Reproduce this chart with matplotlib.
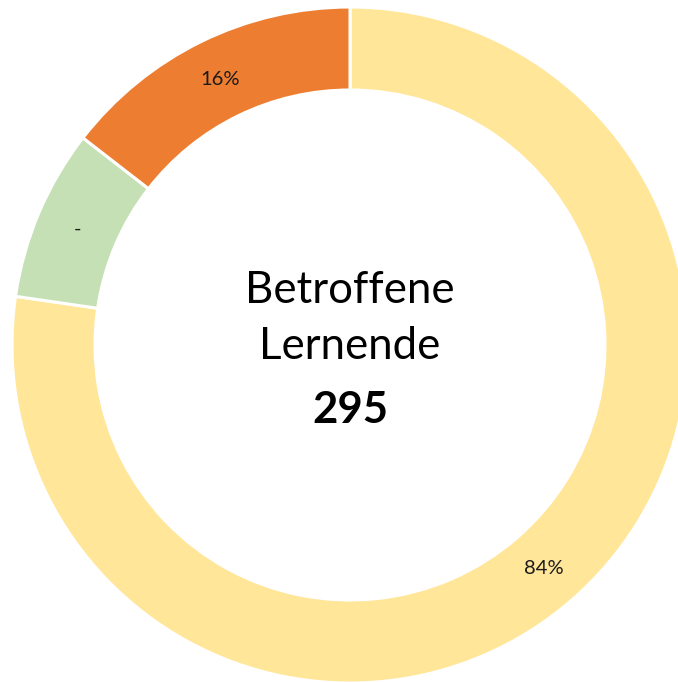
import numpy as np
import matplotlib.pyplot as plt

# Дані (частки сегментів, як видно на кільці) та підписи
shares = [77.3, 8.2, 14.5]
labels = ["84%", "-", "16%"]
colors = ["#FFE699", "#C5E0B4", "#ED7D31"]
center_title = ["Betroffene", "Lernende"]
center_value = "295"

plt.rcParams['font.family'] = ['Lato', 'DejaVu Sans']

fig = plt.figure(figsize=(6.78, 6.82), dpi=100)
ax = fig.add_axes([0, 0, 1, 1])

R = 338.0
wedges, _ = ax.pie(shares, colors=colors, startangle=90, counterclock=False,
                   radius=1.0, wedgeprops=dict(width=83 / R, edgecolor='white', linewidth=2.2))

# Підписи сегментів посередині кільця
r_lab = 0.875
for w, lab in zip(wedges, labels):
    ang = np.deg2rad((w.theta1 + w.theta2) / 2)
    ax.text(r_lab * np.cos(ang), r_lab * np.sin(ang), lab,
            ha='center', va='center', fontsize=14.5, color='#1a1a1a')

# Текст у центрі
ax.text(0, 42 / R, center_title[0], ha='center', va='baseline', fontsize=31.5, color='black')
ax.text(0, -14 / R, center_title[1], ha='center', va='baseline', fontsize=31.5, color='black')
ax.text(0, -78 / R, center_value, ha='center', va='baseline', fontsize=31.5,
        fontweight='bold', color='black')

ax.set_xlim(-350 / R, (678 - 350) / R)
ax.set_ylim(-(682 - 345) / R, 345 / R)
ax.set_aspect('auto')
ax.axis('off')

fig.savefig('out.png', dpi=100, facecolor='white')
